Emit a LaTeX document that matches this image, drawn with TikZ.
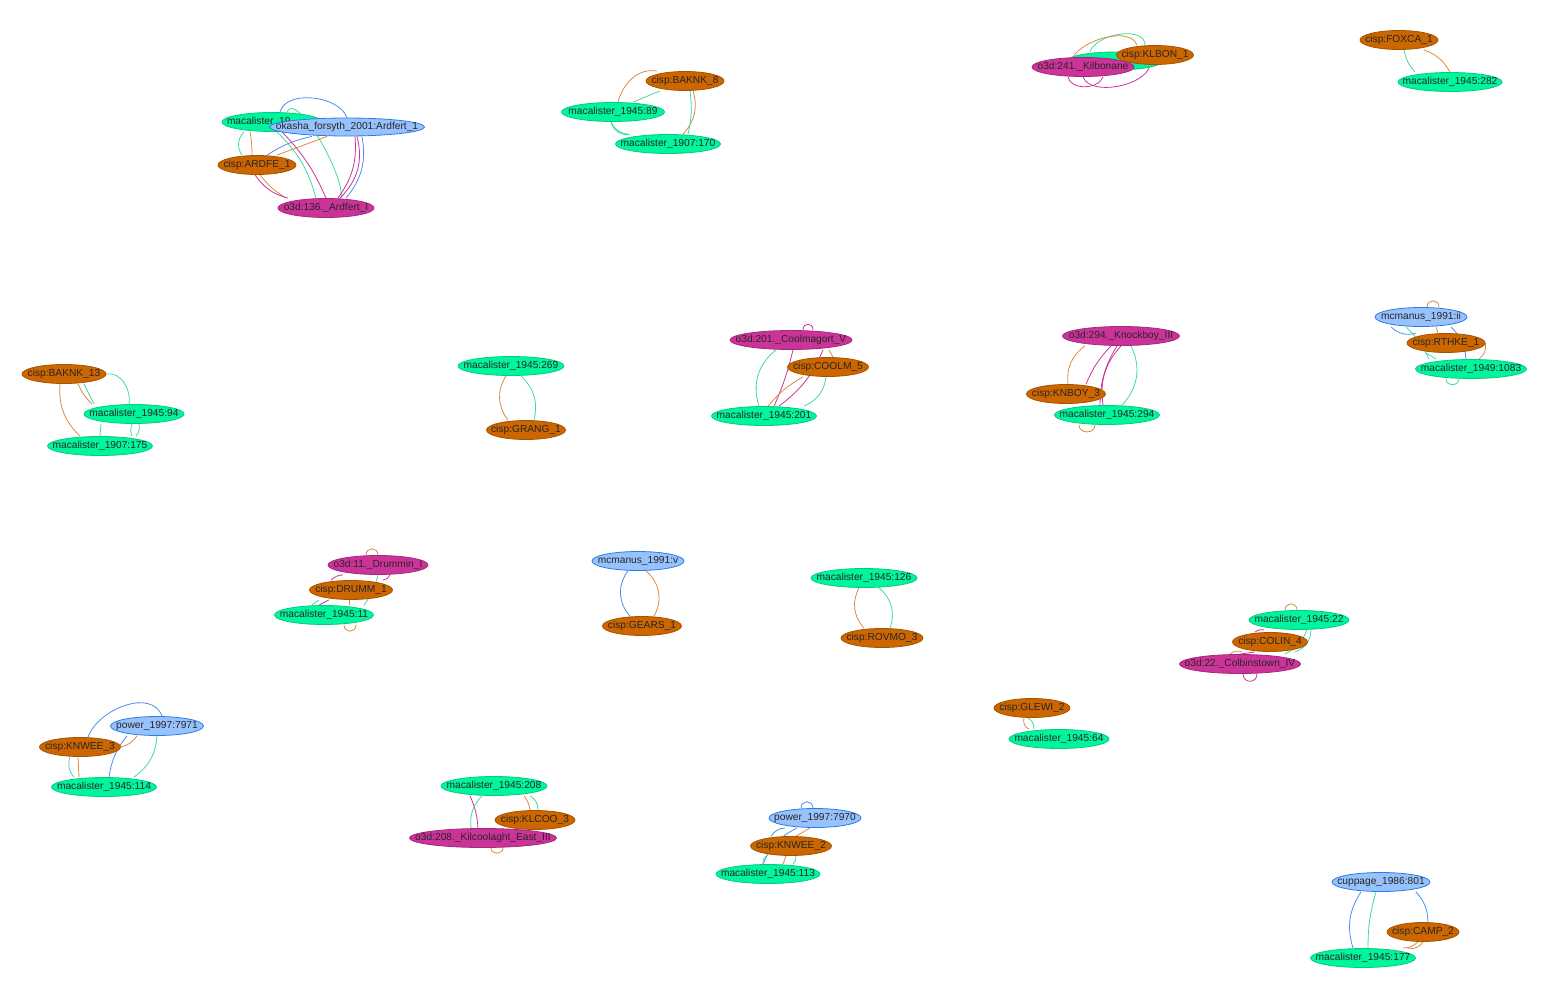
\documentclass[tikz,border=0pt]{standalone}
\usepackage{fontspec}
\setmainfont{Liberation Sans}
\usetikzlibrary{shapes.geometric}
\definecolor{macfill}{HTML}{00F59C}
\definecolor{macline}{HTML}{00CC82}
\definecolor{cispfill}{HTML}{CC6600}
\definecolor{cispline}{HTML}{A65200}
\definecolor{othdfill}{HTML}{CC3399}
\definecolor{othdline}{HTML}{A3297A}
\definecolor{refbfill}{HTML}{97C2FC}
\definecolor{refbline}{HTML}{2B7CE9}
\pgfdeclarelayer{edges}
\pgfsetlayers{edges,main}
\tikzset{
  gnode/.style={ellipse, draw, line width=0.8pt, inner sep=0pt, minimum height=19pt,
    text=black!85, font=\fontsize{10.2}{12}\selectfont},
  mac/.style={gnode, fill=macfill, draw=macline},
  cisp/.style={gnode, fill=cispfill, draw=cispline},
  othd/.style={gnode, fill=othdfill, draw=othdline},
  refb/.style={gnode, fill=refbfill, draw=refbline},
  eg/.style={draw=macline!75!white, line width=0.8pt},
  eo/.style={draw=cispfill!75!white, line width=0.8pt},
  em/.style={draw=othdfill, line width=0.8pt},
  eb/.style={draw=refbline!85!white, line width=0.8pt}
}
\newcommand{\lbl}[1]{\makebox[0pt]{#1}}
\begin{document}
\begin{tikzpicture}[x=1pt,y=-1pt]
\useasboundingbox (0,0) rectangle (1550,1000);

% Ardfert
\node[mac, minimum width=100pt] (ardm) at (272,122) {\makebox[0pt][l]{\hspace{-45pt}macalister\_19}};
\node[cisp, minimum width=78pt] (ardc) at (257,165) {\lbl{cisp:ARDFE\_1}};
\node[othd, minimum width=96pt] (ardo) at (326,208) {\lbl{o3d:136.\_Ardfert\_I}};
\node[refb, minimum width=155pt, minimum height=18pt] (ardk) at (347,127) {\lbl{okasha\_forsyth\_2001:Ardfert\_1}};
% Baknk 8
\node[cisp, minimum width=78pt] (b8) at (685,81) {\lbl{cisp:BAKNK\_8}};
\node[mac, minimum width=103pt] (b89) at (613,112) {\lbl{macalister\_1945:89}};
\node[mac, minimum width=105pt] (b170) at (668,144) {\lbl{macalister\_1907:170}};
% Kilbonane
\node[mac, minimum width=95pt, minimum height=18pt] (kgr) at (1115,61) {};
\node[cisp, minimum width=77pt] (kc) at (1155,55) {\lbl{cisp:KLBON\_1}};
\node[othd, minimum width=102pt] (ko) at (1083,67) {\lbl{o3d:241.\_Kilbonane}};
% Foxca
\node[cisp, minimum width=78pt] (fx) at (1399,40) {\lbl{cisp:FOXCA\_1}};
\node[mac, minimum width=104pt] (f282) at (1450,82) {\lbl{macalister\_1945:282}};
% Baknk 13
\node[cisp, minimum width=84pt] (c13) at (64,374) {\lbl{cisp:BAKNK\_13}};
\node[mac, minimum width=100pt] (c94) at (134,414) {\lbl{macalister\_1945:94}};
\node[mac, minimum width=105pt] (c175) at (100,446) {\lbl{macalister\_1907:175}};
% Grang
\node[mac, minimum width=106pt] (g269) at (511,366) {\lbl{macalister\_1945:269}};
\node[cisp, minimum width=79pt] (gr) at (526,430) {\lbl{cisp:GRANG\_1}};
% Coolmagort
\node[othd, minimum width=122pt] (co) at (791,340) {\lbl{o3d:201.\_Coolmagort\_V}};
\node[cisp, minimum width=81pt] (cc) at (828,367) {\lbl{cisp:COOLM\_5}};
\node[mac, minimum width=105pt] (cm) at (764,416) {\lbl{macalister\_1945:201}};
% Knockboy
\node[othd, minimum width=117pt] (kn1) at (1121,336) {\lbl{o3d:294.\_Knockboy\_III}};
\node[cisp, minimum width=79pt] (kn2) at (1066,394) {\lbl{cisp:KNBOY\_3}};
\node[mac, minimum width=105pt] (kn3) at (1107,415) {\lbl{macalister\_1945:294}};
% Rathkeale
\node[refb, minimum width=92pt] (r1) at (1421,317) {\lbl{mcmanus\_1991:ii}};
\node[cisp, minimum width=78pt] (r2) at (1446,343) {\lbl{cisp:RTHKE\_1}};
\node[mac, minimum width=111pt] (r3) at (1471,369) {\lbl{macalister\_1949:1083}};
% Drummin
\node[othd, minimum width=100pt] (d1) at (378,565) {\lbl{o3d:11.\_Drummin\_I}};
\node[cisp, minimum width=83pt] (d2) at (351,590) {\lbl{cisp:DRUMM\_1}};
\node[mac, minimum width=99pt] (d3) at (324,615) {\lbl{macalister\_1945:11}};
% Gears
\node[refb, minimum width=92pt] (v1) at (638,561) {\lbl{mcmanus\_1991:v}};
\node[cisp, minimum width=79pt] (v2) at (642,626) {\lbl{cisp:GEARS\_1}};
% Rovmo
\node[mac, minimum width=106pt] (w1) at (864,578) {\lbl{macalister\_1945:126}};
\node[cisp, minimum width=82pt] (w2) at (882,638) {\lbl{cisp:ROVMO\_3}};
% Colbinstown
\node[mac, minimum width=100pt] (z1) at (1299,620) {\lbl{macalister\_1945:22}};
\node[cisp, minimum width=75pt] (z2) at (1270,642) {\lbl{cisp:COLIN\_4}};
\node[othd, minimum width=121pt] (z3) at (1240,664) {\lbl{o3d:22.\_Colbinstown\_IV}};
% Glewi
\node[cisp, minimum width=76pt] (gw1) at (1032,708) {\lbl{cisp:GLEWI\_2}};
\node[mac, minimum width=100pt] (gw2) at (1059,739) {\lbl{macalister\_1945:64}};
% Knwee 3
\node[refb, minimum width=93pt] (p1) at (157,726) {\lbl{power\_1997:7971}};
\node[cisp, minimum width=81pt] (p2) at (80,747) {\lbl{cisp:KNWEE\_3}};
\node[mac, minimum width=105pt] (p3) at (104,787) {\lbl{macalister\_1945:114}};
% Kilcoolaght
\node[mac, minimum width=106pt] (q1) at (494,786) {\lbl{macalister\_1945:208}};
\node[cisp, minimum width=80pt] (q2) at (535,820) {\lbl{cisp:KLCOO\_3}};
\node[othd, minimum width=147pt] (q3) at (483,838) {\lbl{o3d:208.\_Kilcoolaght\_East\_III}};
% Knwee 2
\node[refb, minimum width=92pt] (s1) at (815,818) {\lbl{power\_1997:7970}};
\node[cisp, minimum width=81pt] (s2) at (791,846) {\lbl{cisp:KNWEE\_2}};
\node[mac, minimum width=104pt] (s3) at (768,874) {\lbl{macalister\_1945:113}};
% Camp
\node[refb, minimum width=98pt] (u1) at (1381,882) {\lbl{cuppage\_1986:801}};
\node[cisp, minimum width=72pt] (u2) at (1423,932) {\lbl{cisp:CAMP\_2}};
\node[mac, minimum width=105pt] (u3) at (1363,958) {\lbl{macalister\_1945:177}};

\begin{pgfonlayer}{edges}
% Ardfert
\draw[eg] ([xshift=15pt]ardm.north) to[out=70,in=80,looseness=0.6] ([xshift=15pt]ardo.north);
\draw[eg] ([xshift=-28pt]ardm.south) to[bend right=40] ([xshift=-15pt]ardc.north);
\draw[eg] ([xshift=5pt]ardm.south) to[bend left=15] ([xshift=-10pt]ardo.north);
\draw[eb] ([xshift=8pt]ardm.north) to[out=75,in=110,looseness=0.9] ([xshift=0pt]ardk.north);
\draw[eb] ([xshift=10pt]ardc.north) to[bend left=10] ([xshift=-35pt]ardk.south);
\draw[eb] ([xshift=15pt]ardk.south) to[bend left=25] ([xshift=20pt]ardo.north);
\draw[eo] ([xshift=20pt]ardc.north) to ([xshift=-20pt]ardk.south);
\draw[eo] ([xshift=-22pt]ardm.south) to[bend left=5] ([xshift=-5pt]ardc.north);
\draw[eo] ([xshift=3pt]ardc.south) to[bend right=10] ([xshift=-40pt]ardo.north);
\draw[em] ([xshift=-2pt]ardc.south) to[bend right=20] ([xshift=-38pt]ardo.north);
\draw[em] ([xshift=10pt]ardm.south) to[bend left=10] ([xshift=0pt]ardo.north);
\draw[em] ([xshift=8pt]ardk.south) to[bend left=20] ([xshift=12pt]ardo.north);
\draw[em] ([xshift=10pt]ardk.south) to[bend left=30] ([xshift=14pt]ardo.north);
% Baknk 8
\draw[eo] ([xshift=-28pt]b8.north) to[out=170,in=75] ([xshift=5pt]b89.north);
\draw[eg] ([xshift=20pt]b89.north) to ([xshift=-25pt]b8.south);
\draw[eg] ([xshift=-2pt]b89.south) to[bend right=30] ([xshift=-40pt]b170.north);
\draw[eg] ([xshift=-2pt]b89.south) to[bend right=45] ([xshift=-38pt]b170.north);
\draw[eo] ([xshift=8pt]b8.south) to[bend left=30] ([xshift=15pt]b170.north);
\draw[eg] ([xshift=5pt]b8.south) to[bend left=10] ([xshift=20pt]b170.north);
% Kilbonane
\draw[eg] ([xshift=-25pt]kgr.north) to[out=70,in=90,looseness=0.9] ([xshift=-10pt]kc.north);
\draw[eo] ([xshift=-10pt]ko.north) to[out=60,in=110,looseness=0.8] ([xshift=-18pt]kc.north);
\draw[em] ([xshift=0pt]ko.south) to[out=-70,in=-100,looseness=0.8] ([xshift=-5pt]kc.south);
\draw[em] ([xshift=-15pt]ko.south) to[out=-80,in=-110,looseness=1] ([xshift=20pt]ko.south);
% Foxca
\draw[eg] ([xshift=5pt]fx.south) to[bend right=15] ([xshift=-35pt]f282.north);
\draw[eo] ([xshift=25pt]fx.south) to[bend left=20] (f282.north);
% Baknk 13
\draw[eg] (c13.east) to[out=10,in=80] ([xshift=-5pt]c94.north);
\draw[eg] ([xshift=20pt]c13.south) to ([xshift=-40pt]c94.north);
\draw[eo] ([xshift=14pt]c13.south) to[bend right=10] ([xshift=-42pt]c94.north);
\draw[eo] ([xshift=-4pt]c13.south) to[bend right=25] ([xshift=-20pt]c175.north);
\draw[eg] ([xshift=-33pt]c94.south) to ([xshift=0pt]c175.north);
\draw[eg] ([xshift=-2pt]c94.south) to[bend right=20] ([xshift=32pt]c175.north);
\draw[eg] ([xshift=5pt]c94.south) to[bend left=25] ([xshift=36pt]c175.north);
% Grang
\draw[eo] ([xshift=-5pt]g269.south) to[bend right=35] ([xshift=-18pt]gr.north);
\draw[eg] ([xshift=10pt]g269.south) to[bend left=30] ([xshift=8pt]gr.north);
% Coolmagort
\draw[eg] ([xshift=-15pt]co.south) to[bend right=35] ([xshift=-5pt]cm.north);
\draw[em] ([xshift=2pt]co.south) to[bend left=5] ([xshift=10pt]cm.north);
\draw[em] ([xshift=32pt]co.south) to[bend left=15] ([xshift=15pt]cm.north);
\draw[eo] ([xshift=-25pt]cc.south) to[bend right=10] ([xshift=4pt]cm.north);
\draw[eg] ([xshift=-2pt]cc.south) to[bend left=30] ([xshift=40pt]cm.north);
\draw[eo] ([xshift=38pt]co.south) to ([xshift=5pt]cc.north);
\draw[em] ([xshift=12pt]co.north) to[out=90,in=90,looseness=2] ([xshift=22pt]co.north);
% Knockboy
\draw[eo] ([xshift=-36pt]kn1.south) to[bend right=30] ([xshift=2pt]kn2.north);
\draw[em] ([xshift=-10pt]kn1.south) to[bend right=10] ([xshift=20pt]kn2.north);
\draw[em] ([xshift=-4pt]kn1.south) to[bend right=15] ([xshift=-7pt]kn3.north);
\draw[em] ([xshift=0pt]kn1.south) to[bend right=25] ([xshift=-4pt]kn3.north);
\draw[eg] ([xshift=10pt]kn1.south) to[bend left=35] ([xshift=15pt]kn3.north);
\draw[eo] ([xshift=-28pt]kn3.south) to[out=-90,in=-90,looseness=1.5] ([xshift=-12pt]kn3.south);
% Rathkeale
\draw[eo] ([xshift=6pt]r1.north) to[out=90,in=90,looseness=1.8] ([xshift=18pt]r1.north);
\draw[eb] ([xshift=-30pt]r1.south) to[bend right=30] ([xshift=-30pt]r2.north);
\draw[eg] ([xshift=-15pt]r1.south) to[bend left=10] ([xshift=-42pt]r3.north);
\draw[eo] ([xshift=15pt]r1.south) to ([xshift=-8pt]r2.north);
\draw[eb] ([xshift=30pt]r1.south) to[bend left=20] ([xshift=-5pt]r3.north);
\draw[eo] (r2.east) to[bend left=30] ([xshift=8pt]r3.north);
\draw[eg] ([xshift=-20pt]r2.south) to ([xshift=-35pt]r3.north);
\draw[eg] ([xshift=-25pt]r3.south) to[out=-90,in=-90,looseness=1.5] ([xshift=-12pt]r3.south);
% Drummin
\draw[eo] ([xshift=-12pt]d1.north) to[out=90,in=90,looseness=1.8] ([xshift=0pt]d1.north);
\draw[em] ([xshift=-35pt]d1.south) to[bend right=20] ([xshift=-20pt]d2.north);
\draw[em] ([xshift=12pt]d1.south) to[bend left=30] ([xshift=32pt]d2.north);
\draw[eg] ([xshift=0pt]d1.south) to[bend left=10] ([xshift=40pt]d3.north);
\draw[eg] ([xshift=-32pt]d2.south) to ([xshift=-12pt]d3.north);
\draw[em] ([xshift=-22pt]d2.south) to ([xshift=-5pt]d3.north);
\draw[eo] ([xshift=-2pt]d2.south) to ([xshift=25pt]d3.north);
\draw[eo] ([xshift=20pt]d3.south) to[out=-90,in=-90,looseness=1.8] ([xshift=32pt]d3.south);
% Gears
\draw[eb] ([xshift=-10pt]v1.south) to[bend right=40] ([xshift=-12pt]v2.north);
\draw[eo] ([xshift=8pt]v1.south) to[bend left=40] ([xshift=12pt]v2.north);
% Rovmo
\draw[eo] ([xshift=-5pt]w1.south) to[bend right=35] ([xshift=-18pt]w2.north);
\draw[eg] ([xshift=15pt]w1.south) to[bend left=35] ([xshift=8pt]w2.north);
% Colbinstown
\draw[eo] ([xshift=-14pt]z1.north) to[out=90,in=90,looseness=1.8] ([xshift=-2pt]z1.north);
\draw[em] ([xshift=-35pt]z1.south) to[bend right=25] ([xshift=-15pt]z2.north);
\draw[eg] ([xshift=8pt]z1.south) to[bend left=20] ([xshift=45pt]z3.north);
\draw[eg] ([xshift=12pt]z1.south) to[bend left=35] ([xshift=25pt]z2.south);
\draw[eo] ([xshift=-28pt]z2.south) to[bend right=30] ([xshift=-10pt]z3.north);
\draw[em] ([xshift=-15pt]z2.south) to ([xshift=0pt]z3.north);
\draw[em] ([xshift=3pt]z3.south) to[out=-90,in=-90,looseness=1.8] ([xshift=17pt]z3.south);
% Glewi
\draw[eo] ([xshift=-8pt]gw1.south) to[bend right=40] ([xshift=-30pt]gw2.north);
\draw[eg] ([xshift=-4pt]gw1.south) to[bend left=30] ([xshift=-25pt]gw2.north);
% Knwee 3
\draw[eb] ([xshift=8pt]p2.north) to[out=70,in=110] ([xshift=5pt]p1.north);
\draw[eo] ([xshift=-20pt]p1.south) to[bend left=20] (p2.east);
\draw[eb] ([xshift=-30pt]p1.south) to[bend right=15] ([xshift=5pt]p3.north);
\draw[eg] ([xshift=0pt]p1.south) to[bend left=25] ([xshift=30pt]p3.north);
\draw[eg] ([xshift=-10pt]p2.south) to[bend right=30] ([xshift=-30pt]p3.north);
\draw[eo] ([xshift=-2pt]p2.south) to ([xshift=-25pt]p3.north);
% Kilcoolaght
\draw[em] ([xshift=-24pt]q1.south) to[bend left=10] ([xshift=-5pt]q3.north);
\draw[eg] ([xshift=-12pt]q1.south) to[bend right=25] ([xshift=-12pt]q3.north);
\draw[eo] ([xshift=30pt]q1.south) to[bend left=15] ([xshift=-5pt]q2.north);
\draw[eg] ([xshift=36pt]q1.south) to[bend left=30] ([xshift=3pt]q2.north);
\draw[eo] ([xshift=8pt]q3.south) to[out=-90,in=-90,looseness=1.5] ([xshift=20pt]q3.south);
% Knwee 2
\draw[eb] ([xshift=-14pt]s1.north) to[out=90,in=90,looseness=1.8] ([xshift=-2pt]s1.north);
\draw[eb] ([xshift=-30pt]s1.south) to[bend right=25] ([xshift=-20pt]s2.north);
\draw[eb] ([xshift=-18pt]s1.south) to[bend right=20] ([xshift=-5pt]s3.north);
\draw[eo] ([xshift=-5pt]s1.south) to ([xshift=5pt]s2.north);
\draw[eg] ([xshift=-25pt]s2.south) to[bend right=25] ([xshift=-5pt]s3.north);
\draw[eg] ([xshift=5pt]s2.south) to[bend left=25] ([xshift=25pt]s3.north);
\draw[eo] ([xshift=-5pt]s2.south) to ([xshift=15pt]s3.north);
% Camp
\draw[eb] ([xshift=-20pt]u1.south) to[bend right=25] ([xshift=-10pt]u3.north);
\draw[eg] ([xshift=-5pt]u1.south) to[bend right=8] ([xshift=5pt]u3.north);
\draw[eb] ([xshift=35pt]u1.south) to[bend left=20] ([xshift=5pt]u2.north);
\draw[eo] ([xshift=-5pt]u2.south) to[bend left=20] ([xshift=40pt]u3.north);
\draw[eo] ([xshift=0pt]u2.south) to[bend left=35] ([xshift=45pt]u3.north);
\end{pgfonlayer}
\end{tikzpicture}
\end{document}
